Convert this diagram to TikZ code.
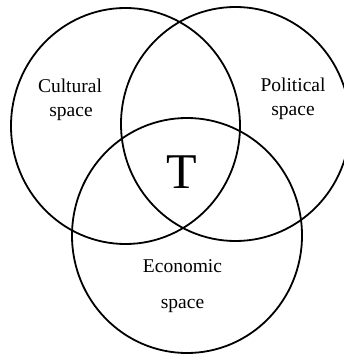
\documentclass[tikz,border=0pt]{standalone}
\usepackage{fontspec}
\setmainfont{Liberation Serif}
\begin{document}
\begin{tikzpicture}[x=1pt,y=-1pt,
  venn/.style={draw=black,line width=1.8pt},
  lab/.style={anchor=base,inner sep=0pt,font=\fontsize{19.5}{22}\selectfont},
  big/.style={anchor=base,inner sep=0pt,font=\fontsize{50}{55}\selectfont}]
\useasboundingbox (0,0) rectangle (344,355);
\clip (0,0) rectangle (344,355);
\coordinate (cl) at (125.5,126);
\coordinate (cr) at (235.5,124);
\coordinate (cb) at (187,235.5);
\draw[venn] (cl) ellipse [x radius=114.5, y radius=118];
\draw[venn] (cr) ellipse [x radius=114.5, y radius=117];
\draw[venn] (cb) ellipse [x radius=115, y radius=117.5];
\node[lab] (c1) at (70,92.5) {Cultural};
\node[lab] (c2) at (71,116.5) {space};
\node[lab] (p1) at (293,92) {Political};
\node[lab] (p2) at (293,116) {space};
\node[big] (t) at (181.5,188) {T};
\node[lab] (e1) at (182.5,272) {Economic};
\node[lab] (e2) at (182.5,308) {space};
\end{tikzpicture}
\end{document}
